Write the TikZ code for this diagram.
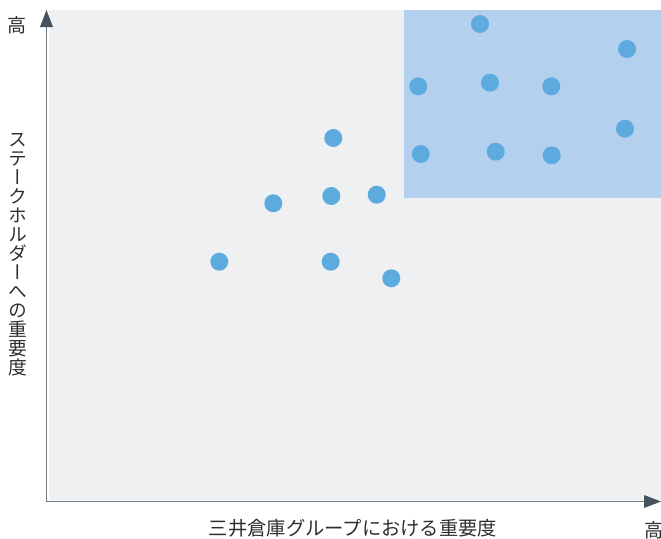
\documentclass[tikz,border=0pt]{standalone}
\usepackage{fontspec}
\newfontfamily\cjk{Noto Sans CJK JP}
\newfontfamily\cjkv[RawFeature=+vert]{Noto Sans CJK JP}
\usetikzlibrary{arrows.meta}
\definecolor{bggray}{HTML}{EFF0F2}
\definecolor{hiblue}{HTML}{B3D1EE}
\definecolor{dotblue}{HTML}{5DAADF}
\definecolor{axisline}{HTML}{6F7C86}
\definecolor{axishead}{HTML}{44535F}
\definecolor{txt}{HTML}{2E2E2E}
\begin{document}
\begin{tikzpicture}[x=1pt,y=-1pt,
  dot/.style={circle,fill=dotblue,minimum size=18pt,inner sep=0pt},
  lbl/.style={font=\cjk\fontsize{19}{19}\selectfont,text=txt,inner sep=0pt},
  wide/.style={font=\cjk\fontsize{19.3}{19}\selectfont},
  vlbl/.style={font=\cjkv\fontsize{18.8}{19}\selectfont,text=txt,inner sep=0pt,align=center},
  axis/.style={draw=axisline,line width=1.4pt,-{Triangle[length=17pt,width=13pt,color=axishead,line width=0pt]}}]
\useasboundingbox (0,0) rectangle (661,538);
\fill[bggray] (49,10) rectangle (661,500);
\fill[hiblue] (404,10) rectangle (661,198);
\coordinate (O) at (46.5,501.5);
\coordinate (ytip) at (46.5,10);
\coordinate (xtip) at (661,501.5);
\draw[axis] (O) -- (ytip);
\draw[axis] (O) -- (xtip);
\node[lbl] (yhigh) at (17.5,25) {高};
\node[lbl] (xhigh) at (654,530) {高};
\node[lbl,wide] (xlabel) at (353,528.5) {三井倉庫グループにおける重要度};
\node[vlbl] (ylabel) at (18,255) {ス\\テ\\ー\\ク\\ホ\\ル\\ダ\\ー\\へ\\の\\重\\要\\度};
\node[dot] (d1) at (480,24) {};
\node[dot] (d2) at (627,49) {};
\node[dot] (d3) at (418.3,86.3) {};
\node[dot] (d4) at (490,82.7) {};
\node[dot] (d5) at (551.3,86.3) {};
\node[dot] (d6) at (625,128.7) {};
\node[dot] (d7) at (420.7,154) {};
\node[dot] (d8) at (495.7,151.7) {};
\node[dot] (d9) at (551.7,155.3) {};
\node[dot] (d10) at (333.3,138) {};
\node[dot] (d11) at (273.3,203.3) {};
\node[dot] (d12) at (331.3,196) {};
\node[dot] (d13) at (376.7,194.7) {};
\node[dot] (d14) at (219.3,261.7) {};
\node[dot] (d15) at (330.7,261.7) {};
\node[dot] (d16) at (391.3,278.3) {};
\end{tikzpicture}
\end{document}
